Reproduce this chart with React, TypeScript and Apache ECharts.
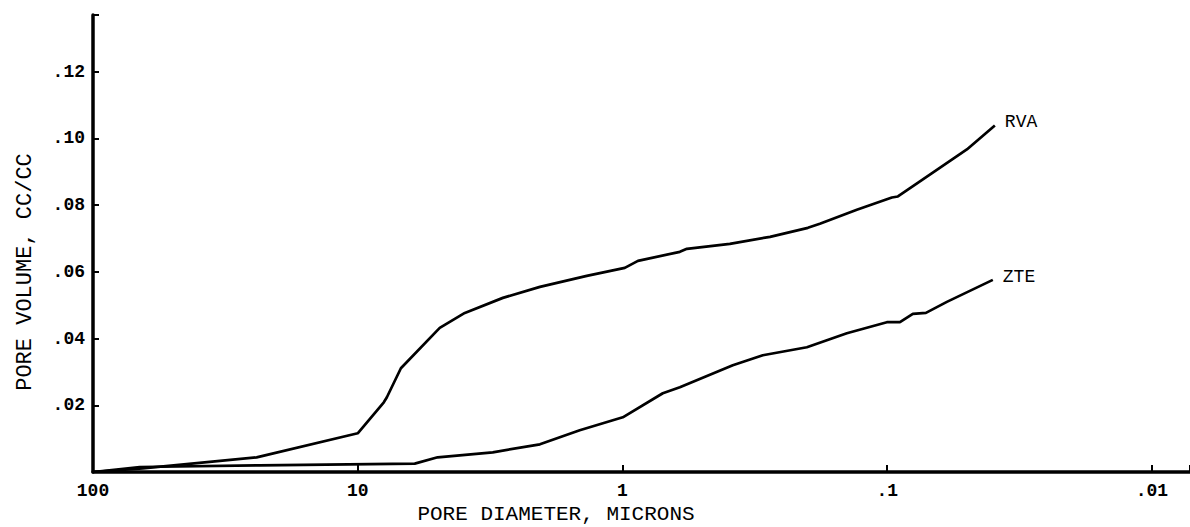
import React, { useEffect, useRef } from "react";
import * as echarts from "echarts";

// Pore diameter (microns) vs pore volume (cc/cc)
const rvaDiameter = [100, 64.9, 24.1, 10, 7.97, 7.76, 6.87, 4.9, 3.94, 2.83, 2.05, 1.364, 0.98, 0.874, 0.607, 0.571, 0.393, 0.277, 0.1993, 0.1796, 0.1302, 0.096, 0.0911, 0.0752, 0.05, 0.0392];
const rvaVolume = [0, 0.0011, 0.0044, 0.0116, 0.0209, 0.0224, 0.0311, 0.0432, 0.0477, 0.0522, 0.0555, 0.0588, 0.0612, 0.0633, 0.066, 0.0669, 0.0684, 0.0705, 0.0732, 0.0744, 0.0786, 0.0823, 0.0826, 0.0871, 0.0967, 0.1039];

const zteDiameter = [100, 66.6, 23.5, 6.09, 4.99, 3.09, 2.05, 1.45, 0.997, 0.704, 0.607, 0.383, 0.295, 0.2011, 0.142, 0.1003, 0.0895, 0.08, 0.0714, 0.0595, 0.0399];
const zteVolume = [0, 0.0015, 0.002, 0.0025, 0.0044, 0.0059, 0.0083, 0.0125, 0.0164, 0.0236, 0.0254, 0.032, 0.035, 0.0374, 0.0416, 0.0449, 0.0449, 0.0474, 0.0477, 0.051, 0.0576];

const seriesNames = ["RVA", "ZTE"];
const xTitle = "PORE DIAMETER, MICRONS";
const yTitle = "PORE VOLUME, CC/CC";
const xTickLabels: Record<string, string> = { "2": "100", "1": "10", "0": "1", "-1": ".1", "-2": ".01" };

const FONT = "'Courier New', 'Liberation Mono', monospace";

export default function App() {
  const ref = useRef<HTMLDivElement>(null);
  useEffect(() => {
    if (!ref.current) return;
    const chart = echarts.init(ref.current, null, { renderer: "svg" });
    const pair = (xs: number[], ys: number[]) => xs.map((x, i) => [x, ys[i]]);
    const endLabel = {
      show: true,
      formatter: "{a}",
      color: "#000",
      fontFamily: FONT,
      fontSize: 18,
      align: "left",
      verticalAlign: "middle",
      distance: 0,
      offset: [10, -3],
    };
    chart.setOption({
      animation: false,
      backgroundColor: "#ffffff",
      grid: { left: 93, right: 0, top: 15, bottom: 55, outerBoundsMode: "none", containLabel: false },
      xAxis: {
        type: "log",
        logBase: 10,
        inverse: true,
        min: 0.00718,
        max: 100,
        axisLine: { show: true, lineStyle: { color: "#000", width: 3.5 } },
        axisTick: { show: true, inside: true, length: 7, lineStyle: { color: "#000", width: 2 } },
        splitLine: { show: false },
        minorTick: { show: false },
        axisLabel: {
          show: true,
          margin: 10,
          color: "#000",
          fontFamily: FONT,
          fontWeight: "bold",
          fontSize: 18,
          showMinLabel: true,
          showMaxLabel: true,
          formatter: (v: number) => {
            const l = Math.log10(v);
            const r = Math.round(l);
            if (Math.abs(l - r) > 1e-6) return "";
            return xTickLabels[String(r)] ?? "";
          },
        },
      },
      yAxis: {
        type: "value",
        min: 0,
        max: 0.137,
        interval: 0.02,
        axisLine: { show: true, lineStyle: { color: "#000", width: 3.5 } },
        axisTick: { show: true, inside: true, length: 6, lineStyle: { color: "#000", width: 2 } },
        splitLine: { show: false },
        axisLabel: {
          margin: 8,
          color: "#000",
          fontFamily: FONT,
          fontWeight: "bold",
          fontSize: 18,
          formatter: (v: number) =>
            v > 0.001 && v < 0.13 ? "." + String(Math.round(v * 100)).padStart(2, "0") : "",
        },
      },
      graphic: [
        {
          type: "text",
          x: 556,
          y: 514,
          style: {
            text: xTitle,
            fill: "#000",
            font: `normal 21px ${FONT}`,
            textAlign: "center",
            textVerticalAlign: "middle",
          },
        },
        {
          type: "text",
          x: 25,
          y: 272,
          rotation: Math.PI / 2,
          style: {
            text: yTitle,
            fill: "#000",
            font: `normal 22px ${FONT}`,
            textAlign: "center",
            textVerticalAlign: "middle",
          },
        },
      ],
      series: [
        {
          name: seriesNames[0],
          type: "line",
          data: pair(rvaDiameter, rvaVolume),
          showSymbol: false,
          symbol: "none",
          lineStyle: { color: "#000", width: 2.7 },
          itemStyle: { color: "#000" },
          endLabel,
        },
        {
          name: seriesNames[1],
          type: "line",
          data: pair(zteDiameter, zteVolume),
          showSymbol: false,
          symbol: "none",
          lineStyle: { color: "#000", width: 2.7 },
          itemStyle: { color: "#000" },
          endLabel,
        },
      ],
    });
    return () => chart.dispose();
  }, []);
  return (
    <div
      ref={ref}
      style={{ position: "absolute", left: 0, top: 0, width: 1190, height: 527, background: "#fff" }}
    />
  );
}
